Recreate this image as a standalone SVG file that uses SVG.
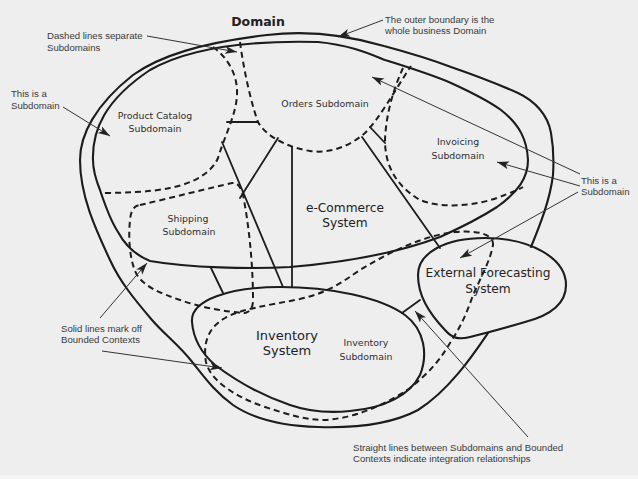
<svg xmlns="http://www.w3.org/2000/svg" width="638" height="479" viewBox="0 0 638 479">
<style>
.b{fill:none;stroke:#1c1c1c;stroke-width:2.1;stroke-linecap:round;stroke-linejoin:round}
.d{fill:none;stroke:#1c1c1c;stroke-width:2;stroke-dasharray:6 4}
.i{fill:none;stroke:#1c1c1c;stroke-width:1.8;stroke-linecap:round}
.a{fill:none;stroke:#333;stroke-width:1}
.n{font-family:"Liberation Sans",Arial,sans-serif;font-size:9.6px;fill:#3a3a3a}
.s{font-family:"DejaVu Sans","Liberation Sans",sans-serif;font-size:9.4px;fill:#2e2e2e;text-anchor:middle}
.l{font-family:"DejaVu Sans","Liberation Sans",sans-serif;font-size:12.2px;fill:#222;text-anchor:middle}
</style>
<defs>
<marker id="ah" markerUnits="userSpaceOnUse" markerWidth="14" markerHeight="10" refX="12" refY="4" orient="auto">
<path d="M0,0 L12,4 L0,8 L3,4 Z" fill="#222"/>
</marker>
</defs>
<rect width="638" height="479" fill="#eeeeee"/>
<rect y="475" width="638" height="4" fill="#f6f6f6"/>

<g id="domain">
<path class="b" d="M 488,333 C 475,352 450,390 418,410 C 390,425 350,428 318,427 C 280,426 252,418 233,405 C 215,392 205,378 193,363 C 180,346 165,335 152,320 C 135,300 120,282 110,260 C 95,228 80,195 80,160 C 80,135 95,105 133,75 C 160,56 200,43 267,35 C 300,31 340,33 384,46 C 410,53 430,59 451,67 C 480,77 500,85 518,93 C 535,101 548,115 551,133 C 554,150 554,160 553,175 C 550,200 540,225 531,247"/>
<text x="258" y="26" text-anchor="middle" style="font-family:'DejaVu Sans','Liberation Sans',sans-serif;font-size:12.5px;font-weight:bold;fill:#222">Domain</text>
</g>

<g id="ecommerce">
<path class="b" d="M 93,160 C 92,130 105,100 150,70 C 185,50 240,40 318,42 C 350,45 370,54 385,60 C 410,68 430,74 451,83 C 475,94 490,102 501,110 C 520,125 527,140 528,160 C 528,178 518,192 497,207 C 480,218 460,228 440,237 C 400,252 350,262 290,267 C 250,269 190,268 150,261 C 135,255 125,245 118,232 C 110,220 105,205 100,190 C 96,180 93,170 93,160 Z"/>
<text class="l" x="345" y="212">e-Commerce</text>
<text class="l" x="345" y="227">System</text>
</g>

<g id="product-catalog">
<path class="d" d="M 213,47 C 228,58 238,75 237,95 C 236,115 225,135 218,158 C 212,172 195,183 170,188 C 150,192 125,193 100,193"/>
<text class="s" x="155" y="119">Product Catalog</text>
<text class="s" x="155" y="132">Subdomain</text>
</g>

<g id="orders">
<path class="d" d="M 240,42 C 243,65 250,100 258,122 C 265,135 285,147 310,151 C 330,154 350,146 365,133 C 380,118 395,90 411,66"/>
<text class="s" x="325" y="107">Orders Subdomain</text>
</g>

<g id="invoicing">
<path class="d" d="M 403,68 C 393,90 386,115 385,140 C 385,165 395,185 420,200 C 440,208 470,207 497,198 C 510,193 518,190 523,187"/>
<text class="s" x="458" y="145">Invoicing</text>
<text class="s" x="458" y="159">Subdomain</text>
</g>

<g id="shipping">
<path class="d" d="M 140,205 C 170,198 210,188 232,183 C 238,182 241,188 243,195 C 248,220 253,260 253,300 C 253,308 250,312 245,313 C 225,312 200,307 180,300 C 160,293 145,287 137,275 C 130,262 128,240 130,220 C 131,210 134,206 140,205 Z"/>
<text class="s" x="188" y="222">Shipping</text>
<text class="s" x="189" y="235">Subdomain</text>
</g>

<g id="inventory-subdomain">
<path class="d" d="M 493,245 C 494,235 480,230 455,232 C 420,236 385,255 360,270 C 342,282 330,292 300,299 C 270,305 240,309 225,318 C 207,328 203,345 206,362 C 210,380 235,397 265,407 C 290,415 305,420 325,420 C 355,418 385,405 410,388 C 430,372 440,360 450,343 C 460,328 466,315 472,298 C 480,278 490,262 493,245 Z"/>
<text class="s" x="366" y="346">Inventory</text>
<text class="s" x="366" y="360">Subdomain</text>
</g>

<g id="inventory-system">
<path class="b" d="M 192,322 C 190,300 230,287 280,287 C 330,287 380,297 405,315 C 425,330 428,355 420,375 C 410,395 385,408 350,411 C 330,413 310,412 290,405 C 260,395 235,380 215,365 C 198,350 193,335 192,322 Z"/>
<text class="l" x="287" y="340" style="font-size:13px">Inventory</text>
<text class="l" x="287" y="355" style="font-size:13px">System</text>
</g>

<g id="external-forecasting">
<path class="b" d="M 485,238 C 530,238 566,258 566,285 C 566,305 548,316 525,322 C 505,328 490,332 470,337 C 458,340 452,338 445,330 C 428,312 418,295 418,275 C 418,253 445,238 485,238 Z"/>
<text class="l" x="488" y="277">External Forecasting</text>
<text class="l" x="488" y="293">System</text>
</g>

<g id="connectors">
<line class="i" x1="227" y1="122" x2="258" y2="122"/>
<line class="i" x1="222" y1="142" x2="283" y2="287"/>
<line class="i" x1="278" y1="138" x2="240" y2="198"/>
<line class="i" x1="292" y1="147" x2="292" y2="287"/>
<line class="i" x1="362" y1="137" x2="440" y2="248"/>
<line class="i" x1="370" y1="127" x2="385" y2="143"/>
<line class="i" x1="211" y1="268" x2="223" y2="293"/>
<line class="i" x1="402" y1="313" x2="420" y2="300"/>
</g>

<g id="annotations">
<line class="a" x1="147" y1="36" x2="237" y2="52" marker-end="url(#ah)"/>
<line class="a" x1="383" y1="20" x2="338" y2="37" marker-end="url(#ah)"/>
<line class="a" x1="63" y1="107" x2="110" y2="136" marker-end="url(#ah)"/>
<line class="a" x1="580" y1="174" x2="372" y2="77" marker-end="url(#ah)"/>
<line class="a" x1="580" y1="186" x2="497" y2="162" marker-end="url(#ah)"/>
<line class="a" x1="578" y1="192" x2="460" y2="258" marker-end="url(#ah)"/>
<line class="a" x1="100" y1="318" x2="147" y2="263" marker-end="url(#ah)"/>
<line class="a" x1="102" y1="351" x2="222" y2="368" marker-end="url(#ah)"/>
<line class="a" x1="528" y1="437" x2="415" y2="311" marker-end="url(#ah)"/>
<text class="n" x="47" y="39">Dashed lines separate</text>
<text class="n" x="47" y="51">Subdomains</text>
<text class="n" x="385" y="23">The outer boundary is the</text>
<text class="n" x="385" y="34">whole business Domain</text>
<text class="n" x="11" y="97">This is a</text>
<text class="n" x="11" y="109">Subdomain</text>
<text class="n" x="581" y="184">This is a</text>
<text class="n" x="581" y="195">Subdomain</text>
<text class="n" x="61" y="332">Solid lines mark off</text>
<text class="n" x="61" y="343">Bounded Contexts</text>
<text class="n" x="353" y="451">Straight lines between Subdomains and Bounded</text>
<text class="n" x="353" y="462">Contexts indicate integration relationships</text>
</g>
</svg>
